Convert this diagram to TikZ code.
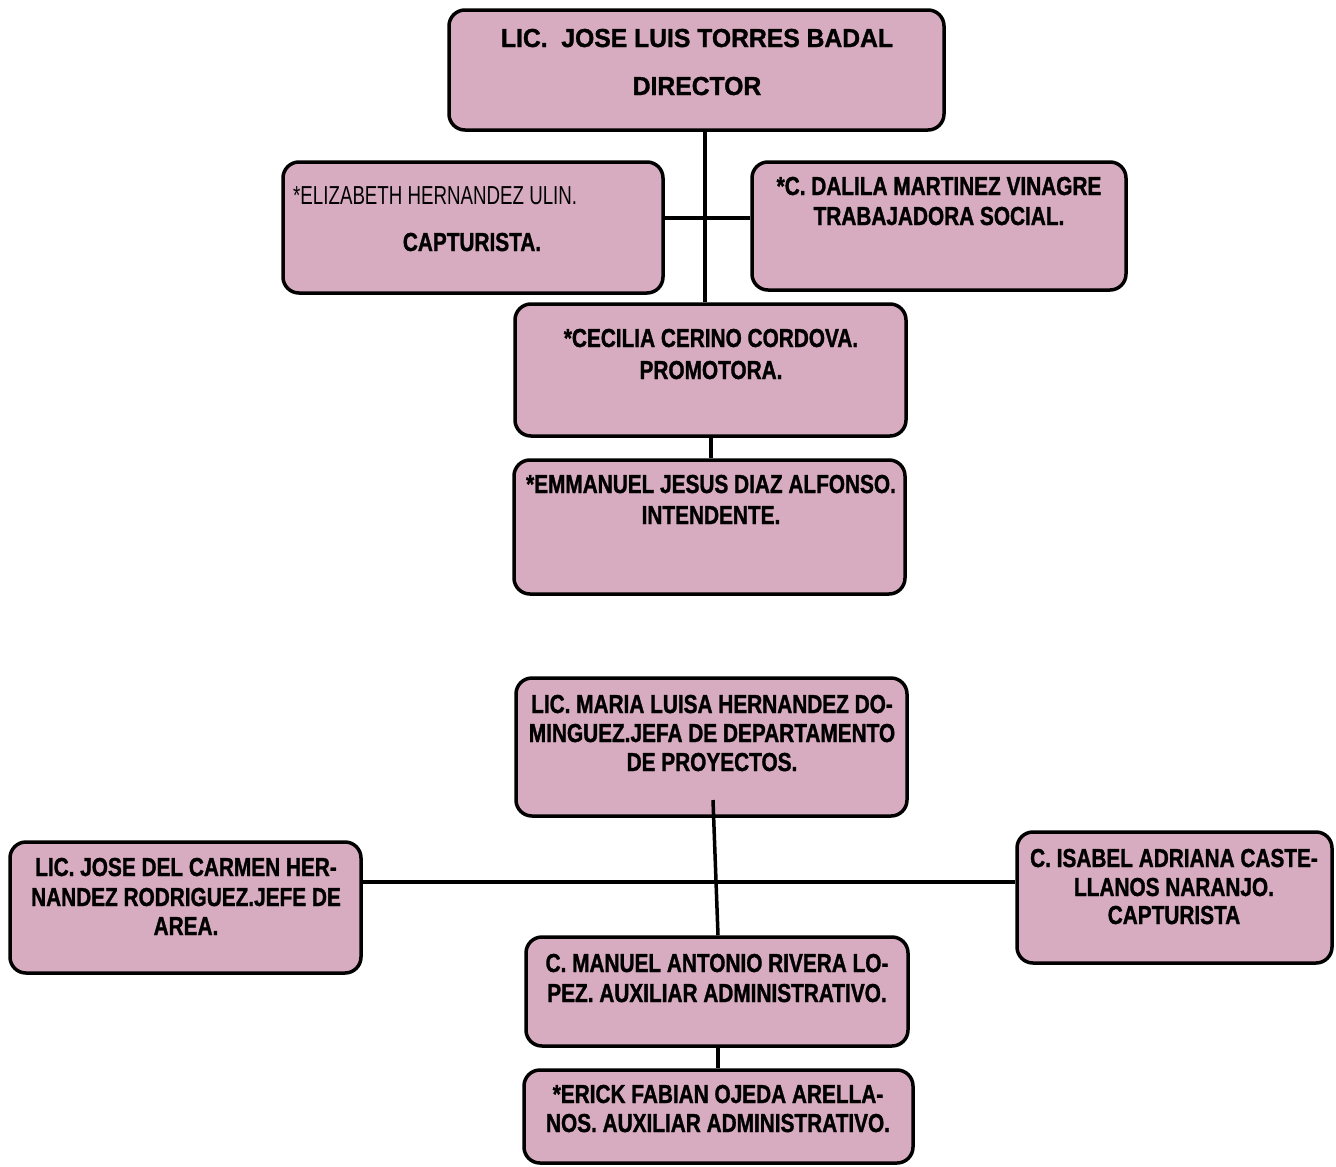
\documentclass[tikz,border=0pt]{standalone}
\usepackage{fontspec}
\setmainfont{Liberation Sans}[FakeStretch=0.80, BoldFeatures={FakeBold=1.2}]
\newfontfamily\widebold{Liberation Sans Bold}[FakeStretch=0.95, FakeBold=1.2]
\newfontfamily\narrowreg{Liberation Sans}[FakeStretch=0.72]
\definecolor{boxpink}{RGB}{216,172,192}
\begin{document}
\begin{tikzpicture}[x=1pt,y=-1pt,
  box/.style={draw=black, line width=3.5pt, rounded corners=16pt, fill=boxpink, inner sep=0pt},
  lbl/.style={font=\fontsize{26}{30}\selectfont\bfseries, text height=18pt, text depth=0pt, inner sep=0pt, anchor=center},
  lblwide/.style={font=\fontsize{26}{30}\selectfont\widebold, text height=18pt, text depth=0pt, inner sep=0pt, anchor=center},
  lblreg/.style={font=\fontsize{26}{30}\selectfont\narrowreg, text height=18pt, text depth=0pt, inner sep=0pt, anchor=west},
  conn/.style={draw=black, line width=3.5pt}]
\useasboundingbox (0,0) rectangle (1336,1167);
% boxes
\node[box, minimum width=495pt, minimum height=120pt] (dir) at (696.5,70) {};
\node[box, minimum width=380pt, minimum height=131pt] (eli) at (473,227.5) {};
\node[box, minimum width=374pt, minimum height=128pt] (dal) at (939,226) {};
\node[box, minimum width=391pt, minimum height=132pt] (cec) at (710.5,370) {};
\node[box, minimum width=391pt, minimum height=134pt] (emm) at (709.5,527) {};
\node[box, minimum width=391pt, minimum height=138pt] (mar) at (711.5,747) {};
\node[box, minimum width=351pt, minimum height=131pt] (jos) at (185.5,907.5) {};
\node[box, minimum width=315pt, minimum height=131pt] (isa) at (1174.5,897.5) {};
\node[box, minimum width=382pt, minimum height=109pt] (man) at (717,991.5) {};
\node[box, minimum width=389pt, minimum height=93pt] (eri) at (718.5,1116.5) {};
% connector coordinates
\coordinate (vx) at (705,0);
\coordinate (hy) at (0,218);
\coordinate (cx) at (711,0);
\coordinate (m1) at (713,800);
\coordinate (m2) at (718,0);
\coordinate (hy2) at (0,882);
% connectors
\draw[conn] (vx |- dir.south) -- (vx |- cec.north);
\draw[conn] (eli.east |- hy) -- (dal.west |- hy);
\draw[conn] (cx |- cec.south) -- (cx |- emm.north);
\draw[conn] (m1) -- (m2 |- man.north);
\draw[conn] (jos.east |- hy2) -- (isa.west |- hy2);
\draw[conn] (m2 |- man.south) -- (m2 |- eri.north);
% texts
\node[lblwide] (t1a) at (697,38) {LIC.\ \ JOSE LUIS TORRES BADAL};
\node[lblwide] (t1b) at (697,86) {DIRECTOR};
\node[lblreg] (t2a) at (293,195) {*ELIZABETH HERNANDEZ ULIN.};
\node[lbl] (t2b) at (472,242) {CAPTURISTA.};
\node[lbl] (t3a) at (939,186) {*C. DALILA MARTINEZ VINAGRE};
\node[lbl] (t3b) at (939,216) {TRABAJADORA SOCIAL.};
\node[lbl] (t4a) at (711,338) {*CECILIA CERINO CORDOVA.};
\node[lbl] (t4b) at (711,370) {PROMOTORA.};
\node[lbl] (t5a) at (711,484) {*EMMANUEL JESUS DIAZ ALFONSO.};
\node[lbl] (t5b) at (711,515) {INTENDENTE.};
\node[lbl] (t6a) at (712,704) {LIC. MARIA LUISA HERNANDEZ DO-};
\node[lbl] (t6b) at (712,733) {MINGUEZ.JEFA DE DEPARTAMENTO};
\node[lbl] (t6c) at (712,762) {DE PROYECTOS.};
\node[lbl] (t7a) at (186,867) {LIC. JOSE DEL CARMEN HER-};
\node[lbl] (t7b) at (186,897) {NANDEZ RODRIGUEZ.JEFE DE};
\node[lbl] (t7c) at (186,926) {AREA.};
\node[lbl] (t8a) at (1174,858) {C. ISABEL ADRIANA CASTE-};
\node[lbl] (t8b) at (1174,887) {LLANOS NARANJO.};
\node[lbl] (t8c) at (1174,915) {CAPTURISTA};
\node[lbl] (t9a) at (717,963) {C. MANUEL ANTONIO RIVERA LO-};
\node[lbl] (t9b) at (717,993) {PEZ. AUXILIAR ADMINISTRATIVO.};
\node[lbl] (t10a) at (718,1094) {*ERICK FABIAN OJEDA ARELLA-};
\node[lbl] (t10b) at (718,1123) {NOS. AUXILIAR ADMINISTRATIVO.};
\end{tikzpicture}
\end{document}
